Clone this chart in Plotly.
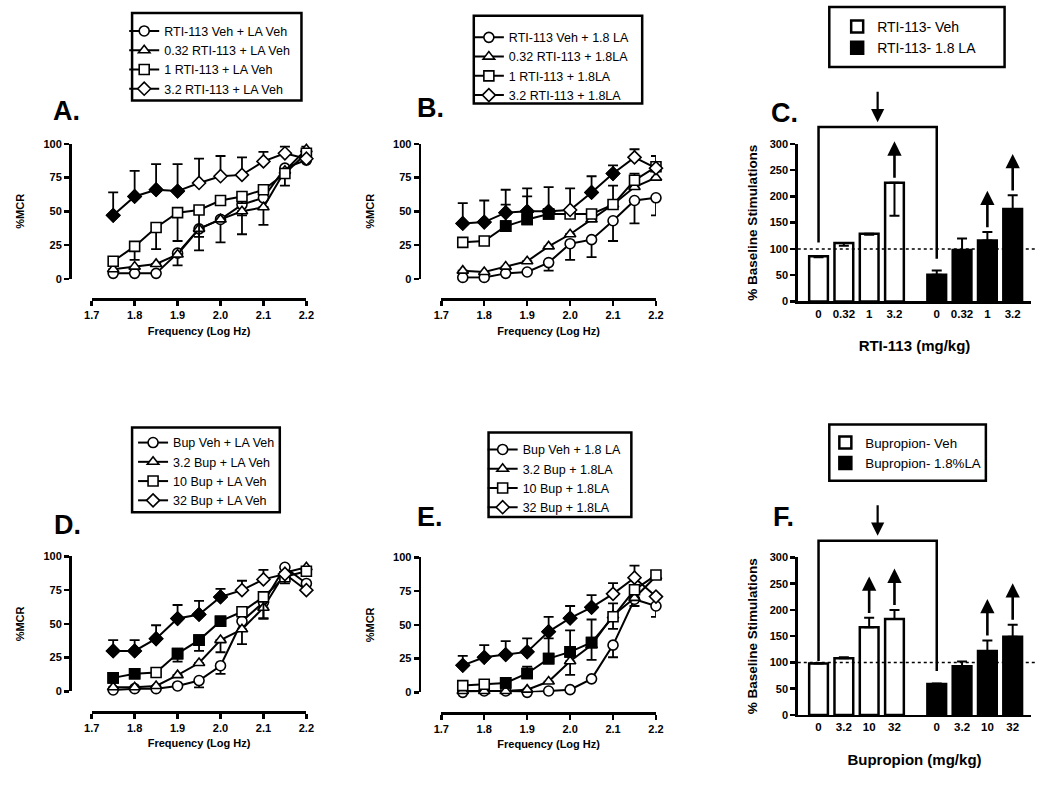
import plotly.graph_objects as go

W, H = 1050, 785
FONT = "Arial, 'Liberation Sans', Helvetica, sans-serif"

# ---------------- data ----------------
FREQ = [1.75, 1.80, 1.85, 1.90, 1.95, 2.00, 2.05, 2.10, 2.15, 2.20]
FREQ_TICKS = [1.7, 1.8, 1.9, 2.0, 2.1, 2.2]
MCR_TICKS = [0, 25, 50, 75, 100]
BAR_TICKS = [0, 50, 100, 150, 200, 250, 300]

# Panel A: RTI-113 + LA vehicle
A_names = ["RTI-113 Veh + LA Veh", "0.32 RTI-113 + LA Veh", "1 RTI-113 + LA Veh", "3.2 RTI-113 + LA Veh"]
A_veh = [4, 4, 4, 19, 37, 44, 55, 60, 82, 88]
A_veh_up = [0, 0, 0, 0, 0, 0, 0, 0, 0, 0]
A_veh_dn = [0, 0, 0, 9, 6, 17, 8, 0, 0, 0]
A_veh_fill = [0, 0, 0, 0, 0, 0, 0, 0, 0, 0]
A_032 = [7, 9, 11, 18, 37, 44, 50, 53, 80, 96]
A_032_up = [0, 0, 0, 0, 0, 0, 0, 0, 0, 2]
A_032_dn = [0, 0, 0, 0, 0, 0, 17, 13, 0, 0]
A_032_fill = [0, 0, 0, 0, 0, 0, 0, 0, 0, 0]
A_1 = [13, 24, 38, 49, 51, 58, 61, 66, 78, 93]
A_1_up = [0, 0, 0, 0, 0, 0, 0, 0, 0, 0]
A_1_dn = [0, 10, 16, 21, 30, 0, 5, 0, 9, 0]
A_1_fill = [0, 0, 0, 0, 0, 0, 0, 0, 0, 0]
A_32 = [47, 61, 66, 65, 71, 76, 77, 87, 93, 89]
A_32_up = [17, 19, 19, 20, 18, 15, 13, 7, 5, 0]
A_32_dn = [0, 0, 0, 0, 0, 0, 0, 0, 0, 0]
A_32_fill = [1, 1, 1, 1, 0, 0, 0, 0, 0, 0]

# Panel B: RTI-113 + 1.8 LA
B_names = ["RTI-113 Veh + 1.8 LA", "0.32 RTI-113 + 1.8LA", "1 RTI-113 + 1.8LA", "3.2 RTI-113 + 1.8LA"]
B_veh = [1, 1, 4, 5, 12, 26, 29, 43, 58, 60]
B_veh_up = [0, 0, 0, 0, 0, 0, 0, 0, 0, 0]
B_veh_dn = [0, 0, 0, 0, 6, 12, 13, 15, 17, 13]
B_veh_fill = [0, 0, 0, 0, 0, 0, 0, 0, 0, 0]
B_032 = [6, 5, 9, 13, 24, 33, 44, 55, 68, 75]
B_032_up = [0, 0, 0, 0, 0, 0, 0, 0, 0, 0]
B_032_dn = [0, 0, 0, 0, 0, 0, 0, 0, 0, 0]
B_032_fill = [0, 0, 0, 0, 0, 0, 0, 0, 0, 0]
B_1 = [27, 28, 39, 44, 48, 48, 48, 55, 73, 83]
B_1_up = [0, 0, 16, 17, 0, 0, 0, 14, 5, 0]
B_1_dn = [0, 0, 0, 0, 0, 0, 0, 0, 0, 0]
B_1_fill = [0, 0, 1, 1, 1, 0, 0, 0, 0, 0]
B_32 = [41, 42, 49, 50, 50, 51, 64, 78, 90, 82]
B_32_up = [15, 16, 17, 17, 18, 16, 12, 6, 6, 9]
B_32_dn = [0, 0, 0, 0, 0, 0, 0, 0, 0, 0]
B_32_fill = [1, 1, 1, 1, 1, 0, 1, 1, 0, 0]

# Panel D: Bupropion + LA vehicle
D_names = ["Bup Veh + LA Veh", "3.2 Bup + LA Veh", "10 Bup + LA Veh", "32 Bup + LA Veh"]
D_veh = [1, 2, 2, 4, 8, 19, 52, 66, 92, 80]
D_veh_up = [0, 0, 0, 0, 0, 0, 0, 0, 0, 0]
D_veh_dn = [0, 0, 0, 0, 5, 6, 0, 12, 0, 0]
D_veh_fill = [0, 0, 0, 0, 0, 0, 0, 0, 0, 0]
D_3 = [3, 3, 4, 12, 21, 38, 46, 62, 88, 92]
D_3_up = [0, 0, 0, 0, 0, 0, 0, 0, 0, 0]
D_3_dn = [0, 0, 0, 0, 0, 9, 11, 0, 0, 0]
D_3_fill = [0, 0, 0, 0, 0, 0, 0, 0, 0, 0]
D_10 = [10, 13, 14, 28, 38, 52, 59, 70, 85, 89]
D_10_up = [0, 0, 0, 0, 0, 0, 0, 0, 0, 0]
D_10_dn = [0, 0, 0, 6, 8, 0, 0, 16, 5, 0]
D_10_fill = [1, 1, 0, 1, 1, 1, 0, 0, 0, 0]
D_32 = [30, 30, 39, 54, 57, 70, 75, 83, 87, 75]
D_32_up = [8, 8, 10, 10, 10, 6, 7, 7, 0, 0]
D_32_dn = [0, 0, 0, 0, 0, 0, 0, 0, 0, 0]
D_32_fill = [1, 1, 1, 1, 1, 1, 0, 0, 0, 0]

# Panel E: Bupropion + 1.8 LA
E_names = ["Bup Veh + 1.8 LA", "3.2 Bup + 1.8LA", "10 Bup + 1.8LA", "32 Bup + 1.8LA"]
E_veh = [0, 1, 1, 0, 1, 2, 10, 35, 69, 64]
E_veh_up = [0, 0, 0, 0, 0, 0, 0, 0, 0, 0]
E_veh_dn = [0, 0, 0, 0, 0, 0, 0, 9, 5, 8]
E_veh_fill = [0, 0, 0, 0, 0, 0, 0, 0, 0, 0]
E_3 = [1, 1, 1, 2, 8, 23, 35, 57, 70, 86]
E_3_up = [0, 0, 0, 0, 0, 0, 0, 0, 0, 0]
E_3_dn = [0, 0, 0, 0, 0, 10, 0, 0, 0, 0]
E_3_fill = [0, 0, 0, 0, 0, 0, 0, 0, 0, 0]
E_10 = [5, 6, 7, 14, 25, 30, 37, 56, 76, 87]
E_10_up = [0, 0, 0, 5, 15, 16, 17, 10, 0, 0]
E_10_dn = [0, 0, 0, 0, 0, 0, 13, 9, 0, 0]
E_10_fill = [0, 0, 1, 1, 1, 1, 1, 0, 0, 0]
E_32 = [20, 26, 28, 30, 45, 55, 63, 73, 85, 71]
E_32_up = [7, 9, 10, 10, 11, 9, 9, 8, 9, 0]
E_32_dn = [0, 0, 0, 0, 0, 0, 0, 0, 0, 0]
E_32_fill = [1, 1, 1, 1, 1, 1, 1, 0, 0, 0]

# Panel C: RTI-113 % baseline stimulations
C_doses = ["0", "0.32", "1", "3.2"]
C_names = ["RTI-113- Veh", "RTI-113- 1.8 LA"]
C_veh = [86, 111, 129, 226]
C_veh_up = [0, 0, 0, 0]
C_veh_dn = [2, 5, 2, 63]
C_veh_sig = [0, 0, 0, 1]
C_la = [51, 98, 116, 176]
C_la_up = [8, 22, 16, 26]
C_la_dn = [0, 0, 0, 0]
C_la_sig = [0, 0, 1, 1]

# Panel F: Bupropion % baseline stimulations
F_doses = ["0", "3.2", "10", "32"]
F_names = ["Bupropion- Veh", "Bupropion- 1.8%LA"]
F_veh = [98, 108, 167, 183]
F_veh_up = [1, 2, 18, 17]
F_veh_dn = [0, 0, 0, 0]
F_veh_sig = [0, 0, 1, 1]
F_la = [59, 93, 122, 149]
F_la_up = [1, 9, 20, 23]
F_la_dn = [0, 0, 0, 0]
F_la_sig = [0, 0, 1, 1]

# ---------------- helpers ----------------
SYMBOLS = ["circle", "triangle-up", "square", "diamond"]
SIZES = [10, 10, 10, 10]


def pxx(p):
    return p / W


def pxy(p):
    return 1 - p / H


def box_shape(x0, y0, x1, y1):
    return dict(type="rect", xref="paper", yref="paper",
                x0=pxx(x0), x1=pxx(x1), y0=pxy(y1), y1=pxy(y0),
                line=dict(color="black", width=2.5), fillcolor="rgba(0,0,0,0)", layer="above")


fig = go.Figure()
layout = dict(
    width=W, height=H, margin=dict(l=0, r=0, t=0, b=0),
    paper_bgcolor="white", plot_bgcolor="white",
    showlegend=True, barmode="overlay",
    font=dict(family=FONT, color="black"),
)
annotations = []
shapes = []

LINE_PANELS = [
    # letter, axis num, xdom px, ydom px, yaxis x px, xaxis y px, legend pos, legend box, letter pos, series
    ("A", 1, (85, 303), (140, 277), 63, 298, (118, 10.5), (126, 7, 298, 96), (44, 107),
     A_names, [(A_veh, A_veh_up, A_veh_dn, A_veh_fill), (A_032, A_032_up, A_032_dn, A_032_fill),
               (A_1, A_1_up, A_1_dn, A_1_fill), (A_32, A_32_up, A_32_dn, A_32_fill)]),
    ("B", 2, (440, 658), (140, 277), 418, 298, (468, 17), (473, 10, 644, 99), (413, 104),
     B_names, [(B_veh, B_veh_up, B_veh_dn, B_veh_fill), (B_032, B_032_up, B_032_dn, B_032_fill),
               (B_1, B_1_up, B_1_dn, B_1_fill), (B_32, B_32_up, B_32_dn, B_32_fill)]),
    ("D", 4, (85, 303), (559, 696), 63, 717, (127, 428.5), (126, 428, 276, 514), (45, 527),
     D_names, [(D_veh, D_veh_up, D_veh_dn, D_veh_fill), (D_3, D_3_up, D_3_dn, D_3_fill),
               (D_10, D_10_up, D_10_dn, D_10_fill), (D_32, D_32_up, D_32_dn, D_32_fill)]),
    ("E", 5, (440, 658), (560, 697), 418, 718, (482, 435.5), (488, 433, 633, 519), (413, 519),
     E_names, [(E_veh, E_veh_up, E_veh_dn, E_veh_fill), (E_3, E_3_up, E_3_dn, E_3_fill),
               (E_10, E_10_up, E_10_dn, E_10_fill), (E_32, E_32_up, E_32_dn, E_32_fill)]),
]

for letter, n, xdom, ydom, yax_x, xax_y, leg, lbox, lpos, names, series in LINE_PANELS:
    sfx = "" if n == 1 else str(n)
    legname = "legend" if n == 1 else f"legend{n}"
    for k, (vals, up, dn, fill) in enumerate(series):
        fig.add_trace(go.Scatter(
            x=FREQ, y=vals, name=names[k], mode="lines+markers",
            xaxis="x" + sfx, yaxis="y" + sfx, legend=legname,
            line=dict(color="black", width=2),
            marker=dict(symbol=SYMBOLS[k], size=SIZES[k], color="white",
                        line=dict(color="black", width=1.6)),
            error_y=dict(type="data", symmetric=False, array=up, arrayminus=dn,
                         color="black", thickness=1.8, width=5),
            cliponaxis=False, hoverinfo="skip",
        ))
        fx = [x for x, f in zip(FREQ, fill) if f]
        fy = [v for v, f in zip(vals, fill) if f]
        if fx:
            fig.add_trace(go.Scatter(
                x=fx, y=fy, mode="markers", showlegend=False,
                xaxis="x" + sfx, yaxis="y" + sfx,
                marker=dict(symbol=SYMBOLS[k], size=SIZES[k], color="black",
                            line=dict(color="black", width=1.6)),
                cliponaxis=False, hoverinfo="skip",
            ))
    layout["xaxis" + sfx] = dict(
        domain=[pxx(xdom[0]), pxx(xdom[1])], range=[1.7, 2.2],
        anchor="free", position=pxy(xax_y),
        showline=True, linecolor="black", linewidth=2.5, mirror=False,
        ticks="outside", ticklen=5, tickwidth=2.5, tickcolor="black",
        tickvals=FREQ_TICKS, tickformat=".1f",
        tickfont=dict(size=11, weight="bold", family=FONT),
        title=dict(text="Frequency (Log Hz)", font=dict(size=11, weight="bold", family=FONT), standoff=6),
        showgrid=False, zeroline=False, fixedrange=True,
    )
    layout["yaxis" + sfx] = dict(
        domain=[pxy(ydom[1]), pxy(ydom[0])], range=[0, 100],
        anchor="free", position=pxx(yax_x),
        showline=True, linecolor="black", linewidth=2.5,
        ticks="outside", ticklen=5, tickwidth=2.5, tickcolor="black",
        tickvals=MCR_TICKS,
        tickfont=dict(size=11, weight="bold", family=FONT),
        title=dict(text="%MCR", font=dict(size=11, weight="bold", family=FONT), standoff=15),
        showgrid=False, zeroline=False, fixedrange=True,
    )
    layout[legname] = dict(
        x=pxx(leg[0]), y=pxy(leg[1]), xanchor="left", yanchor="top",
        bgcolor="rgba(0,0,0,0)", borderwidth=0,
        font=dict(size=12.5, family=FONT), tracegroupgap=0, traceorder="normal",
    )
    shapes.append(box_shape(*lbox))
    annotations.append(dict(
        text="<b>%s.</b>" % letter, xref="paper", yref="paper",
        x=pxx(lpos[0]), y=pxy(lpos[1]), xanchor="left", yanchor="middle",
        showarrow=False, font=dict(size=27, family=FONT),
    ))

# ---------------- bar panels ----------------
GROUP_GAP = 4.67
BAR_W = 0.74
BAR_XR = [-0.82, 8.40]
BAR_PANELS = [
    ("C", 3, (802, 1039), (140, 300), (842, 5), 14, (834, 1, 1012, 62), (773, 109), "RTI-113 (mg/kg)",
     C_doses, C_names, (C_veh, C_veh_up, C_veh_dn, C_veh_sig), (C_la, C_la_up, C_la_dn, C_la_sig),
     (112, 81)),
    ("F", 6, (802, 1039), (560, 720), (830, 428), 13.3, (834, 425, 993, 482), (775, 519), "Bupropion (mg/kg)",
     F_doses, F_names, (F_veh, F_veh_up, F_veh_dn, F_veh_sig), (F_la, F_la_up, F_la_dn, F_la_sig),
     (103, 84)),
]
BRACKET_TOP = 332


def bar_px_x(pos, xdom):
    return xdom[0] + (pos - BAR_XR[0]) / (BAR_XR[1] - BAR_XR[0]) * (xdom[1] - xdom[0])


def bar_px_y(val, ydom):
    return ydom[1] - val / 300.0 * (ydom[1] - ydom[0])


for letter, n, xdom, ydom, leg, lfs, lbox, lpos, xtitle, doses, names, g0, g1, br_ends in BAR_PANELS:
    sfx = str(n)
    legname = f"legend{n}"
    pos0 = [i for i in range(len(doses))]
    pos1 = [i + GROUP_GAP for i in range(len(doses))]
    for (vals, up, dn, sig), pos, col, nm in ((g0, pos0, "white", names[0]), (g1, pos1, "black", names[1])):
        fig.add_trace(go.Bar(
            x=pos, y=vals, width=BAR_W, name=nm, xaxis="x" + sfx, yaxis="y" + sfx, legend=legname,
            marker=dict(color=col, line=dict(color="black", width=2.5)),
            error_y=dict(type="data", symmetric=False, array=up, arrayminus=dn,
                         color="black", thickness=2, width=5),
            hoverinfo="skip",
        ))
        for p, v, u, s in zip(pos, vals, up, sig):
            if s:
                base_px = bar_px_y(v + u, ydom) - 4
                annotations.append(dict(
                    x=pxx(bar_px_x(p, xdom)), y=pxy(base_px - 38), xref="paper", yref="paper",
                    ax=0, ay=38, text="", showarrow=True,
                    arrowhead=2, arrowsize=1.1, arrowwidth=2.6, arrowcolor="black", standoff=0,
                ))
    layout["xaxis" + sfx] = dict(
        domain=[pxx(xdom[0]), pxx(xdom[1])], range=BAR_XR, anchor="y" + sfx,
        showline=True, linecolor="black", linewidth=2.5, ticks="",
        tickvals=pos0 + pos1, ticktext=doses + doses,
        tickfont=dict(size=11.5, weight="bold", family=FONT),
        title=dict(text=xtitle, font=dict(size=15, weight="bold", family=FONT), standoff=22),
        showgrid=False, zeroline=False, fixedrange=True,
    )
    layout["yaxis" + sfx] = dict(
        domain=[pxy(ydom[1]), pxy(ydom[0])], range=[0, 300], anchor="x" + sfx,
        showline=True, linecolor="black", linewidth=2.5,
        ticks="outside", ticklen=5, tickwidth=2.5, tickcolor="black",
        tickvals=BAR_TICKS,
        tickfont=dict(size=11, weight="bold", family=FONT),
        title=dict(text="% Baseline Stimulations", font=dict(size=13.5, weight="bold", family=FONT), standoff=9),
        showgrid=False, zeroline=False, fixedrange=True,
    )
    layout[legname] = dict(
        x=pxx(leg[0]), y=pxy(leg[1]), xanchor="left", yanchor="top",
        bgcolor="rgba(0,0,0,0)", borderwidth=0,
        font=dict(size=lfs, family=FONT), tracegroupgap=0, traceorder="normal",
    )
    shapes.append(box_shape(*lbox))
    annotations.append(dict(
        text="<b>%s.</b>" % letter, xref="paper", yref="paper",
        x=pxx(lpos[0]), y=pxy(lpos[1]), xanchor="left", yanchor="middle",
        showarrow=False, font=dict(size=27, family=FONT),
    ))
    # dotted baseline at 100 %
    y100 = bar_px_y(100, ydom)
    shapes.append(dict(type="line", xref="paper", yref="paper",
                       x0=pxx(xdom[0]), x1=pxx(xdom[1] + 4), y0=pxy(y100), y1=pxy(y100),
                       line=dict(color="black", width=1.5, dash="dot")))
    # bracket comparing vehicle groups
    xl = bar_px_x(pos0[0], xdom)
    xr = bar_px_x(pos1[0], xdom)
    ytop = bar_px_y(BRACKET_TOP, ydom)
    yl = bar_px_y(br_ends[0], ydom)
    yr = bar_px_y(br_ends[1], ydom)
    shapes.append(dict(type="path", xref="paper", yref="paper",
                       path="M %f %f L %f %f L %f %f L %f %f" % (pxx(xl), pxy(yl), pxx(xl), pxy(ytop),
                                                                 pxx(xr), pxy(ytop), pxx(xr), pxy(yr)),
                       line=dict(color="black", width=2.5)))
    annotations.append(dict(
        x=pxx((xl + xr) / 2), y=pxy(ytop - 5), xref="paper", yref="paper",
        ax=0, ay=-32, text="", showarrow=True,
        arrowhead=2, arrowsize=1.2, arrowwidth=2.2, arrowcolor="black", standoff=0,
    ))

layout["annotations"] = annotations
layout["shapes"] = shapes
fig.update_layout(**layout)
fig.write_html(
    "out.html",
    config={"displayModeBar": False, "staticPlot": True},
    post_script="document.body.style.margin='0';document.body.style.padding='0';"
                "document.body.style.overflow='hidden';",
)
